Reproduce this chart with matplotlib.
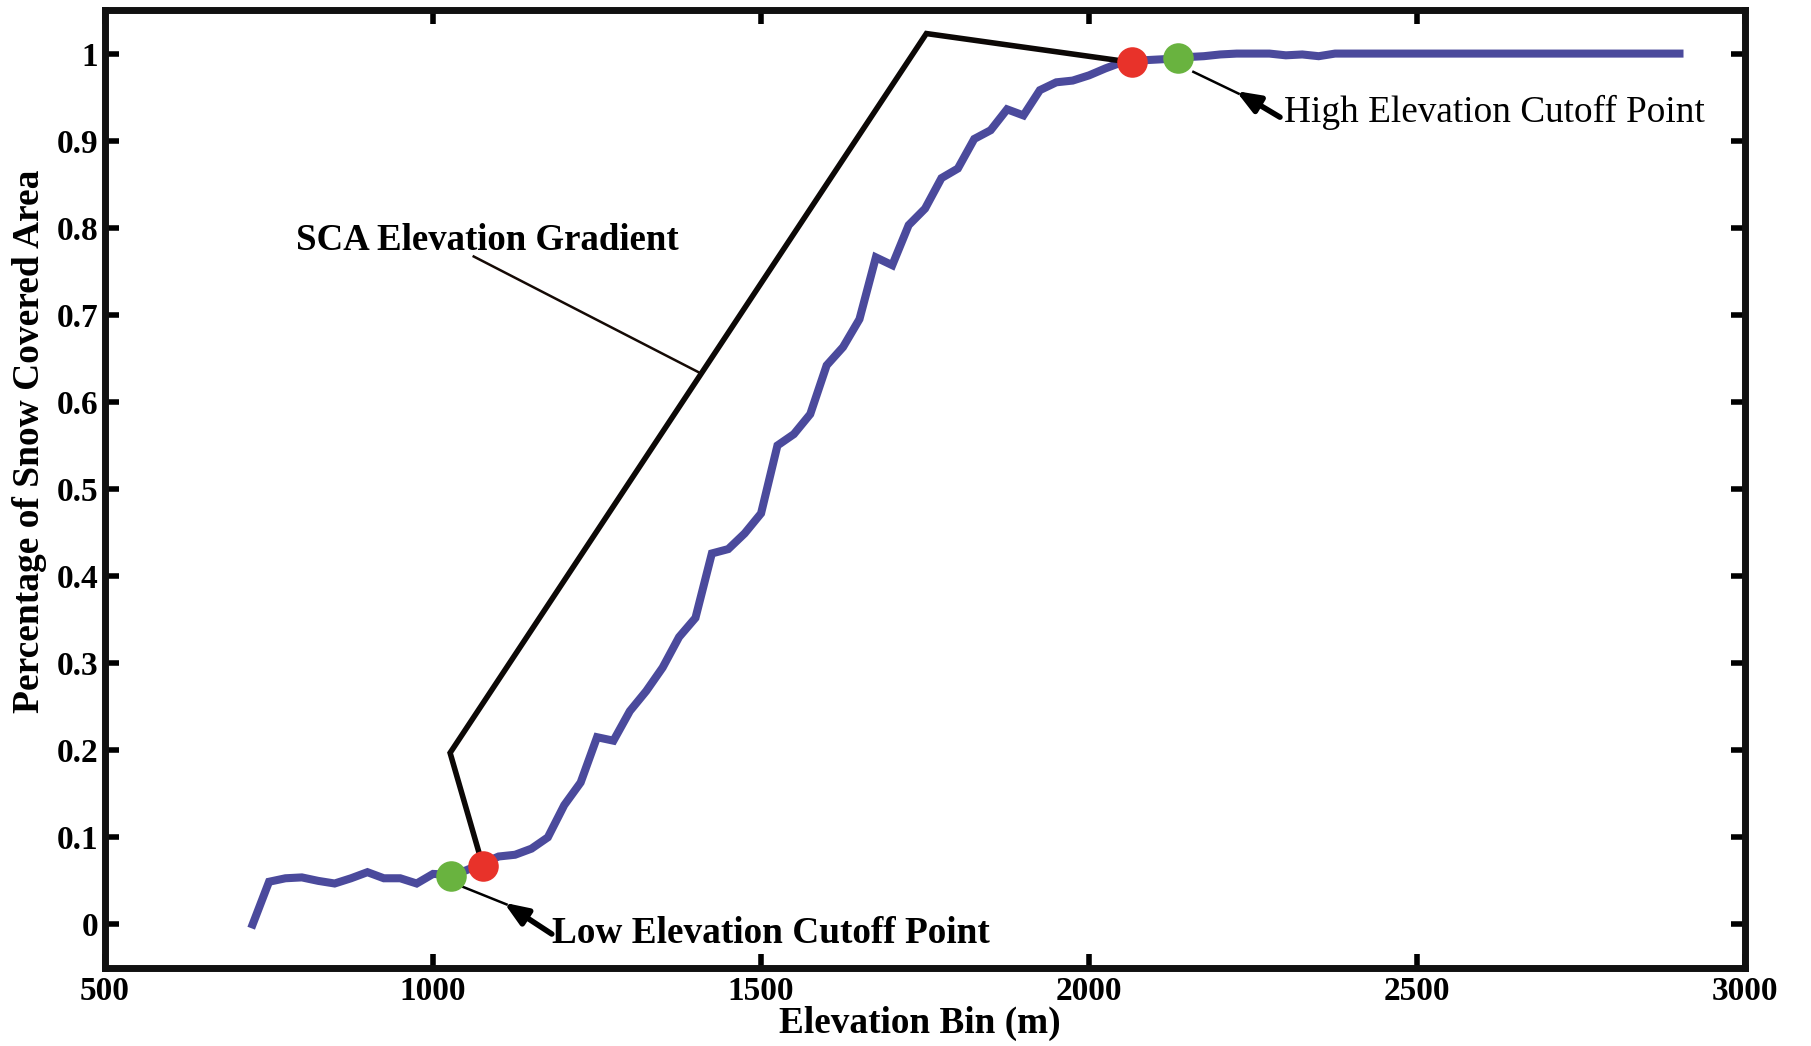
import matplotlib
matplotlib.use("Agg")
import matplotlib.pyplot as plt

plt.rcParams['font.family'] = ['Liberation Serif', 'DejaVu Serif']

elevation = [725, 750, 775, 800, 825, 850, 875, 900, 925, 950, 975, 1000,
             1025, 1050, 1075, 1100, 1125, 1150, 1175, 1200, 1225, 1250, 1275, 1300,
             1325, 1350, 1375, 1400, 1425, 1450, 1475, 1500, 1525, 1550, 1575, 1600,
             1625, 1650, 1675, 1700, 1725, 1750, 1775, 1800, 1825, 1850, 1875, 1900,
             1925, 1950, 1975, 2000, 2025, 2050, 2075, 2100, 2125, 2150, 2175, 2200,
             2225, 2250, 2275, 2300, 2325, 2350, 2375, 2400, 2425, 2450, 2475, 2500,
             2525, 2550, 2575, 2600, 2625, 2650, 2675, 2700, 2725, 2750, 2775, 2800,
             2825, 2850, 2875, 2900]
sca = [0.000, 0.049, 0.053, 0.054, 0.050, 0.047, 0.053, 0.060, 0.053, 0.053, 0.047, 0.058,
       0.057, 0.062, 0.070, 0.078, 0.080, 0.087, 0.100, 0.137, 0.163, 0.215, 0.211, 0.245,
       0.268, 0.295, 0.330, 0.352, 0.426, 0.431, 0.449, 0.472, 0.550, 0.563, 0.586, 0.642,
       0.663, 0.695, 0.766, 0.757, 0.803, 0.822, 0.857, 0.868, 0.902, 0.912, 0.936, 0.929,
       0.958, 0.967, 0.969, 0.975, 0.983, 0.990, 0.992, 0.993, 0.994, 0.996, 0.997, 0.999,
       1.000, 1.000, 1.000, 0.998, 0.999, 0.997, 1.000, 1.000, 1.000, 1.000, 1.000, 1.000,
       1.000, 1.000, 1.000, 1.000, 1.000, 1.000, 1.000, 1.000, 1.000, 1.000, 1.000, 1.000,
       1.000, 1.000, 1.000, 1.000]

# gradient bracket polyline
gradient_x = [1076, 1026, 1752, 2065]
gradient_y = [0.067, 0.197, 1.023, 0.990]

red_x = [1076, 2065]
red_y = [0.067, 0.990]
green_x = [1027, 2136]
green_y = [0.056, 0.995]

xticks = [500, 1000, 1500, 2000, 2500, 3000]
yticks = [0, 0.1, 0.2, 0.3, 0.4, 0.5, 0.6, 0.7, 0.8, 0.9, 1]
ytick_labels = ['0', '0.1', '0.2', '0.3', '0.4', '0.5', '0.6', '0.7', '0.8', '0.9', '1']

fig = plt.figure(figsize=(18.11, 10.46), dpi=100)
ax = fig.add_axes([0.058, 0.0746, 0.9056, 0.9158])

ax.plot(elevation, sca, color='#4b4a9c', lw=5.8, solid_joinstyle='miter', zorder=3)
ax.plot(gradient_x, gradient_y, color='#0c0806', lw=4, solid_joinstyle='miter', zorder=4)
ax.plot(red_x, red_y, 'o', color='#e8322a', markersize=22, markeredgewidth=0, zorder=5)
ax.plot(green_x, green_y, 'o', color='#69b33f', markersize=22, markeredgewidth=0, zorder=5)

arrow_style = '-|>,head_length=1.4,head_width=0.55'

# thin connector to the gradient label
ax.plot([1062, 1405], [0.767, 0.634], color='#150a05', lw=1.8, zorder=4)
ax.text(791, 0.785, 'SCA Elevation Gradient', fontsize=26.6, fontweight='bold',
        ha='left', va='center', zorder=6)

# low elevation arrow
ax.plot([1046, 1112], [0.043, 0.023], color='black', lw=1.8, zorder=4)
ax.annotate('', xy=(1108, 0.025), xytext=(1181, -0.011),
            arrowprops=dict(arrowstyle=arrow_style,
                            lw=4, color='black', shrinkA=0, shrinkB=0), zorder=4)
ax.text(1181, -0.010, 'Low Elevation Cutoff Point', fontsize=26.8, fontweight='bold',
        ha='left', va='center', zorder=6)

# high elevation arrow
ax.plot([2159, 2228], [0.979, 0.954], color='black', lw=1.8, zorder=4)
ax.annotate('', xy=(2224, 0.957), xytext=(2291, 0.927),
            arrowprops=dict(arrowstyle=arrow_style,
                            lw=4, color='black', shrinkA=0, shrinkB=0), zorder=4)
ax.text(2297, 0.933, 'High Elevation Cutoff Point', fontsize=26.8,
        ha='left', va='center', zorder=6)

ax.set_xlim(500, 3000)
ax.set_ylim(-0.05, 1.05)
ax.set_xticks(xticks)
ax.set_yticks(yticks)
ax.set_yticklabels(ytick_labels)
for lab in ax.get_xticklabels() + ax.get_yticklabels():
    lab.set_fontweight('bold')
ax.tick_params(axis='both', which='major', direction='in', length=10, width=4,
               top=True, right=True, labelsize=24, colors='black')
ax.tick_params(axis='y', pad=5)
ax.tick_params(axis='x', pad=6)
for s in ax.spines.values():
    s.set_linewidth(5)
    s.set_color('#111111')

ax.set_xlabel('Elevation Bin (m)', fontsize=26.8, fontweight='bold')
ax.set_ylabel('Percentage of Snow Covered Area', fontsize=27, fontweight='bold')
ax.xaxis.label.set_va('center')
ax.yaxis.label.set_va('center')
ax.xaxis.set_label_coords(0.497, -0.058)
ax.yaxis.set_label_coords(-0.0463, 0.55)

fig.savefig('out.png', dpi=100)
